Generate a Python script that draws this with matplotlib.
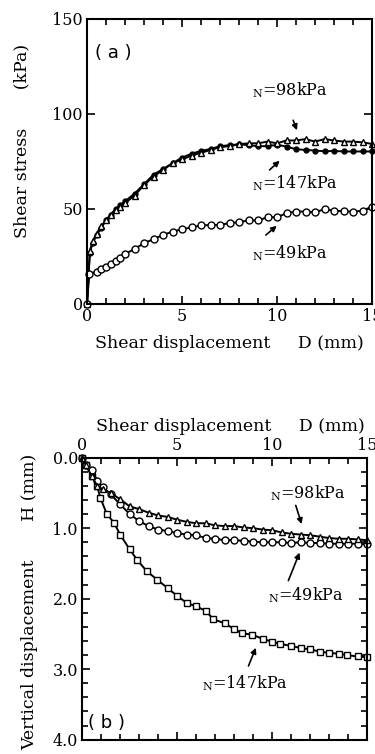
import matplotlib
matplotlib.use("Agg")
from matplotlib import pyplot as plt
from matplotlib.ticker import MultipleLocator

plt.rcParams["font.family"] = ["DejaVu Serif"]
plt.rcParams["mathtext.fontset"] = "custom"
plt.rcParams["mathtext.rm"] = "DejaVu Serif"

# (a) shear stress vs shear displacement
d_a = [0, 0.15, 0.3, 0.5, 0.75, 1.0, 1.25, 1.5, 1.75, 2.0, 2.5, 3.0, 3.5, 4.0, 4.5,
       5.0, 5.5, 6.0, 6.5, 7.0, 7.5, 8.0, 8.5, 9.0, 9.5, 10.0, 10.5, 11.0, 11.5,
       12.0, 12.5, 13.0, 13.5, 14.0, 14.5, 15.0]
tau_98 = [0, 28, 33, 37, 41, 44, 47, 49.5, 51, 53, 57, 62.5, 67, 70.5, 74,
          76, 78, 79.5, 81, 82.5, 83, 84, 84.5, 84.5, 85.4, 84.5, 86, 86, 86.7,
          85.4, 86.7, 86, 85.4, 85.4, 85, 84.2]
tau_147 = [0, 27, 32, 36, 40, 44, 47, 50, 52, 54, 58, 63, 68, 71, 74,
           77, 79, 80.5, 81.5, 83, 83.5, 84, 83.5, 83, 83, 83.7, 82.8, 81.4, 81,
           80.7, 80.3, 80.5, 80.2, 80.2, 80.2, 80.2]
d_a49 = [0, 0.12, 0.5, 0.75, 1.0, 1.25, 1.5, 1.75, 2.0, 2.5, 3.0, 3.5, 4.0, 4.5,
         5.0, 5.5, 6.0, 6.5, 7.0, 7.5, 8.0, 8.5, 9.0, 9.5, 10.0, 10.5, 11.0, 11.5,
         12.0, 12.5, 13.0, 13.5, 14.0, 14.5, 15.0]
tau_49 = [0, 15.8, 17, 18.5, 19.6, 21, 22.6, 24, 26.3, 28.8, 32, 34, 36.3, 38,
          39.3, 40.2, 41.4, 41.4, 41.6, 42.5, 43, 43.9, 43.9, 45.6, 45.6, 47.7, 48.6, 48.6,
          48.2, 49.8, 49, 48.8, 48.5, 49, 51.2]

# (b) vertical displacement vs shear displacement
d_b = [0, 0.2, 0.5, 0.8, 1.1, 1.5, 2.0, 2.5, 3.0, 3.5, 4.0, 4.5, 5.0, 5.5, 6.0,
       6.5, 7.0, 7.5, 8.0, 8.5, 9.0, 9.5, 10.0, 10.5, 11.0, 11.5, 12.0, 12.5,
       13.0, 13.5, 14.0, 14.5, 15.0]
h_98 = [0, 0.11, 0.26, 0.4, 0.45, 0.5, 0.59, 0.69, 0.73, 0.78, 0.82, 0.84, 0.88,
        0.91, 0.93, 0.93, 0.96, 0.97, 0.97, 0.99, 1.0, 1.02, 1.03, 1.06, 1.08,
        1.09, 1.1, 1.12, 1.14, 1.15, 1.15, 1.16, 1.17]
h_49 = [0, 0.1, 0.17, 0.33, 0.42, 0.52, 0.66, 0.8, 0.9, 0.97, 1.02, 1.04, 1.07,
        1.09, 1.1, 1.14, 1.15, 1.17, 1.17, 1.18, 1.19, 1.2, 1.2, 1.2, 1.21, 1.2,
        1.21, 1.21, 1.22, 1.22, 1.22, 1.22, 1.23]
d_b147 = [0, 0.23, 0.53, 0.79, 0.96, 1.3, 1.67, 2.0, 2.5, 2.9, 3.4, 3.95, 4.5,
          5.0, 5.5, 6.0, 6.5, 6.9, 7.5, 8.0, 8.4, 8.95, 9.5, 10.0, 10.4, 11.0,
          11.5, 12.0, 12.5, 13.0, 13.5, 13.95, 14.5, 15.0]
h_147 = [0, 0.1, 0.26, 0.4, 0.57, 0.8, 0.92, 1.09, 1.3, 1.45, 1.61, 1.73, 1.85,
         1.96, 2.06, 2.11, 2.17, 2.29, 2.35, 2.43, 2.49, 2.51, 2.57, 2.61, 2.64,
         2.67, 2.7, 2.72, 2.75, 2.77, 2.78, 2.8, 2.82, 2.83]

fig = plt.figure(figsize=(3.75, 7.54), dpi=100)
ax1 = fig.add_axes([0.232, 0.597, 0.76, 0.378])
ax2 = fig.add_axes([0.219, 0.019, 0.76, 0.374])

line_kw = dict(color="black", lw=1.4, mew=1.0, clip_on=False)
lab_fs = 12.5
note_fs = 11.5

# Plot (a)
ax1.plot(d_a, tau_147, marker="o", mfc="black", ms=3.5, **line_kw)
ax1.plot(d_a, tau_98, marker="^", mfc="white", ms=4.5, **line_kw)
ax1.plot(d_a49, tau_49, marker="o", mfc="white", ms=5, **line_kw)
ax1.set_xlim(0, 15)
ax1.set_ylim(0, 150)
ax1.xaxis.set_major_locator(MultipleLocator(5))
ax1.xaxis.set_minor_locator(MultipleLocator(1))
ax1.yaxis.set_major_locator(MultipleLocator(50))
ax1.set_xlabel("Shear displacement     D (mm)", fontsize=lab_fs, labelpad=7)
ax1.set_ylabel("Shear stress       (kPa)", fontsize=12.5)
ax1.yaxis.set_label_coords(-0.2, 0.572)
ax1.text(0.4, 132, "( a )", family="DejaVu Sans", fontsize=13, va="center")

arrow = dict(arrowstyle="-|>", color="black", lw=1.2, mutation_scale=8)
ax1.annotate("", xy=(11.1, 90), xytext=(10.8, 98), arrowprops=arrow)
ax1.text(8.7, 112.6, r"$_{\rm N}$=98kPa", fontsize=note_fs, va="center")
ax1.annotate("", xy=(10.25, 76.3), xytext=(9.5, 69.5), arrowprops=arrow)
ax1.text(8.7, 63.7, r"$_{\rm N}$=147kPa", fontsize=note_fs, va="center")
ax1.annotate("", xy=(10.1, 42), xytext=(9.3, 35.3), arrowprops=arrow)
ax1.text(8.7, 26.8, r"$_{\rm N}$=49kPa", fontsize=note_fs, va="center")

# Plot (b)
ax2.plot(d_b147, h_147, marker="s", mfc="white", ms=4.5, **line_kw)
ax2.plot(d_b, h_49, marker="o", mfc="white", ms=5, **line_kw)
ax2.plot(d_b, h_98, marker="^", mfc="white", ms=4.5, **line_kw)
ax2.set_xlim(0, 15)
ax2.set_ylim(4.0, 0.0)
ax2.xaxis.set_major_locator(MultipleLocator(5))
ax2.xaxis.set_minor_locator(MultipleLocator(1))
ax2.yaxis.set_major_locator(MultipleLocator(1.0))
ax2.yaxis.set_minor_locator(MultipleLocator(0.2))
ax2.yaxis.set_major_formatter(plt.FormatStrFormatter("%.1f"))
ax2.xaxis.set_label_position("top")
ax2.set_xlabel("Shear displacement     D (mm)", fontsize=lab_fs)
ax2.xaxis.set_label_coords(0.52, 1.095)
ax2.set_ylabel("Vertical displacement       H (mm)", fontsize=12.5)
ax2.yaxis.set_label_coords(-0.154, 0.49)
ax2.text(0.3, 3.77, "( b )", family="DejaVu Sans", fontsize=13, va="center")

ax2.annotate("", xy=(11.6, 0.98), xytext=(11.2, 0.64), arrowprops=arrow)
ax2.text(9.9, 0.5, r"$_{\rm N}$=98kPa", fontsize=note_fs, va="center")
ax2.annotate("", xy=(11.5, 1.31), xytext=(10.8, 1.78), arrowprops=arrow)
ax2.text(9.8, 1.95, r"$_{\rm N}$=49kPa", fontsize=note_fs, va="center")
ax2.annotate("", xy=(9.2, 2.66), xytext=(8.7, 2.99), arrowprops=arrow)
ax2.text(6.3, 3.2, r"$_{\rm N}$=147kPa", fontsize=note_fs, va="center")

for ax in (ax1, ax2):
    for s in ax.spines.values():
        s.set_linewidth(1.5)
    ax.tick_params(which="both", direction="in", top=True, right=True, width=1.2)
    ax.tick_params(which="major", length=6, labelsize=11.5, pad=3)
    ax.tick_params(which="minor", length=4)
ax2.tick_params(labeltop=True, labelbottom=False)

fig.savefig("out.png", dpi=100)
